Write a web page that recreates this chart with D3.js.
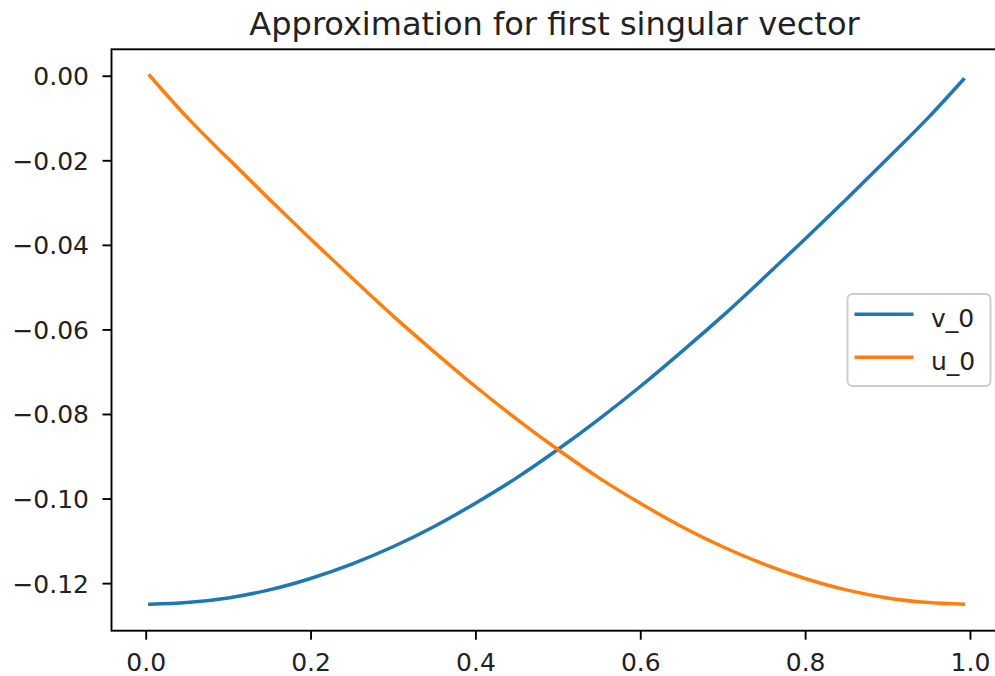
<!DOCTYPE html>
<html>
<head>
<meta charset="utf-8">
<script src="https://cdn.jsdelivr.net/npm/d3@7"></script>
<style>
  html, body { margin: 0; padding: 0; background: #fff; }
  svg { display: block; font-family: "DejaVu Sans", sans-serif; }
</style>
</head>
<body>
<svg id="chart" width="995" height="676"></svg>
<script>
// ---- data ----
const title = "Approximation for first singular vector";
const xValues = [0.005, 0.05, 0.10, 0.15, 0.20, 0.25, 0.30, 0.35, 0.40, 0.45, 0.50,
                 0.55, 0.60, 0.65, 0.70, 0.75, 0.80, 0.85, 0.90, 0.95, 0.992];
const v0 = [-0.1250, -0.1246, -0.1235, -0.1216, -0.1189, -0.1155, -0.1114, -0.1066, -0.1011, -0.0951, -0.0884,
            -0.0812, -0.0735, -0.0653, -0.0568, -0.0478, -0.0386, -0.0292, -0.0196, -0.0098, -0.0009];
const u0 = [0.0000, -0.0098, -0.0196, -0.0292, -0.0386, -0.0478, -0.0568, -0.0653, -0.0735, -0.0812, -0.0884,
            -0.0951, -0.1011, -0.1066, -0.1114, -0.1155, -0.1189, -0.1216, -0.1235, -0.1246, -0.1250];
const seriesNames = ["v_0", "u_0"];
const seriesColors = ["#1f77b4", "#ff7f0e"];
const xTicks = [0.0, 0.2, 0.4, 0.6, 0.8, 1.0];
const yTicks = [0.00, -0.02, -0.04, -0.06, -0.08, -0.10, -0.12];
const xDomain = [-0.0415, 1.0334];
const yDomain = [-0.13125, 0.00625];

// ---- layout ----
const svg = d3.select("#chart");
const plot = { left: 111.5, top: 49.3, right: 997.5, bottom: 630.7 };
const tickFont = 25, titleFont = 32;

const x = d3.scaleLinear().domain(xDomain).range([plot.left, plot.right]);
const y = d3.scaleLinear().domain(yDomain).range([plot.bottom, plot.top]);

// lines
const series = [v0, u0];
const line = d3.line().x(d => x(d[0])).y(d => y(d[1])).curve(d3.curveMonotoneX);
series.forEach((vals, i) => {
  svg.append("path")
    .datum(xValues.map((xv, j) => [xv, vals[j]]))
    .attr("fill", "none")
    .attr("stroke", seriesColors[i])
    .attr("stroke-width", 3.5)
    .attr("stroke-linecap", "square")
    .attr("d", line);
});

// axes
const xAxis = d3.axisBottom(x).tickValues(xTicks).tickFormat(d3.format(".1f"))
  .tickSizeInner(9).tickSizeOuter(0).tickPadding(5);
const yAxis = d3.axisLeft(y).tickValues(yTicks).tickFormat(d => d3.format(".2f")(d).replace("-", "\u2212"))
  .tickSizeInner(9).tickSizeOuter(0).tickPadding(5);

const gx = svg.append("g").attr("transform", `translate(0,${plot.bottom})`).call(xAxis);
const gy = svg.append("g").attr("transform", `translate(${plot.left},0)`).call(yAxis);
[gx, gy].forEach(g => {
  g.select(".domain").remove();
  g.selectAll(".tick line").attr("stroke", "#000").attr("stroke-width", 1.9);
  g.selectAll(".tick text").attr("fill", "#222").attr("font-size", tickFont)
    .attr("font-family", "DejaVu Sans");
});
gx.selectAll(".tick text").attr("dy", null).attr("y", 40);
gy.selectAll(".tick text").attr("dy", "0.36em").attr("x", -22.5);

// spines
const spines = svg.append("g").attr("stroke", "#000").attr("stroke-width", 1.9).attr("fill", "none");
spines.append("rect")
  .attr("x", plot.left).attr("y", plot.top)
  .attr("width", plot.right - plot.left).attr("height", plot.bottom - plot.top);

// title
svg.append("text")
  .attr("x", (plot.left + plot.right) / 2).attr("y", 35)
  .attr("text-anchor", "middle").attr("font-size", titleFont).attr("fill", "#222")
  .text(title);

// legend
const lg = svg.append("g");
lg.append("rect")
  .attr("x", 847.5).attr("y", 294).attr("width", 143).attr("height", 92)
  .attr("rx", 5).attr("ry", 5)
  .attr("fill", "#fff").attr("fill-opacity", 0.8)
  .attr("stroke", "#cccccc").attr("stroke-width", 1.9);
const legendY = [314.3, 357.3];
seriesNames.forEach((name, i) => {
  lg.append("line")
    .attr("x1", 854.5).attr("x2", 913.5)
    .attr("y1", legendY[i]).attr("y2", legendY[i])
    .attr("stroke", seriesColors[i]).attr("stroke-width", 3.5);
  lg.append("text")
    .attr("x", 931).attr("y", legendY[i] + 13)
    .attr("font-size", tickFont).attr("fill", "#222")
    .text(name);
});
</script>
</body>
</html>
